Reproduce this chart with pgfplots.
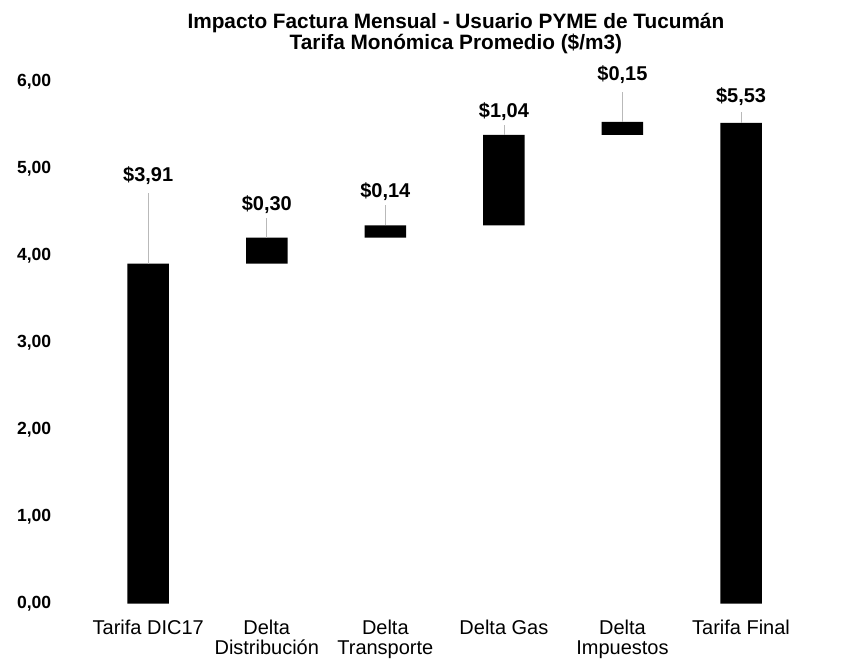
\documentclass[border=0pt]{standalone}
\usepackage{pgfplots}
\usepackage{pgfplotstable}
\pgfplotsset{compat=1.18}
\usepackage{fontspec}
\setmainfont{Liberation Sans}

% x: position, base: invisible part, delta: bar, top: bar top, lab: label centre, len: leader line
\pgfplotstableread{
x base delta top lab len text
0 0    3.91 3.91 4.92 0.81 \$3,91
1 3.91 0.30 4.21 4.59 0.23 \$0,30
2 4.21 0.14 4.35 4.74 0.23 \$0,14
3 4.35 1.04 5.39 5.66 0.11 \$1,04
4 5.39 0.15 5.54 6.08 0.34 \$0,15
5 0    5.53 5.53 5.83 0.12 \$5,53
}\waterfall

\pgfplotsset{
  wf/.style={
    scale only axis,
    width=499pt, height=342.6pt,
    xmin=-0.77, xmax=5.96,
    ymin=0, ymax=6.3,
  },
}

\begin{document}
\begin{tikzpicture}
\begin{axis}[
    wf,
    name=main,
    ybar stacked,
    bar width=0.35,
    axis line style={draw=none},
    major tick length=0pt,
    xtick={0,...,5},
    xticklabels={Tarifa DIC17,{Delta\\Distribución},{Delta\\Transporte},Delta Gas,{Delta\\Impuestos},Tarifa Final},
    xticklabel style={align=center, font=\fontsize{12.5}{13}\selectfont, anchor=north, yshift=-6.5pt},
    ytick={0,1,...,6},
    yticklabel style={
      /pgf/number format/fixed,
      /pgf/number format/fixed zerofill,
      /pgf/number format/precision=2,
      /pgf/number format/use comma,
      /pgf/number format/assume math mode=true,
      font=\bfseries\fontsize{11}{13}\selectfont,
    },
    title={Impacto Factura Mensual - Usuario PYME de Tucumán\\Tarifa Monómica Promedio (\$/m3)},
    title style={align=center, font=\bfseries\fontsize{13}{12.8}\selectfont, yshift=-8pt},
]
\addplot[draw=none, fill=none] table[x=x, y=base] \waterfall;
\addplot[draw=none, fill=black] table[x=x, y=delta] \waterfall;
\end{axis}

\begin{axis}[
    wf,
    hide axis,
]
% leader lines from bar tops up to the labels
\addplot[draw=none, mark=none,
    error bars/.cd, y dir=plus, y explicit, error mark=none,
    error bar style={draw=gray!55, thin}]
    table[x=x, y=top, y error=len] \waterfall;
\addplot[draw=none, mark=none,
    nodes near coords, point meta=explicit symbolic,
    every node near coord/.append style={anchor=center, font=\bfseries\fontsize{12.5}{14}\selectfont}]
    table[x=x, y=lab, meta=text] \waterfall;
\end{axis}

% page margins as in the reference
\path ([shift={(-35.6pt,-36.25pt)}]main.south west) rectangle ([yshift=34.9pt]main.north east);
\end{tikzpicture}
\end{document}
